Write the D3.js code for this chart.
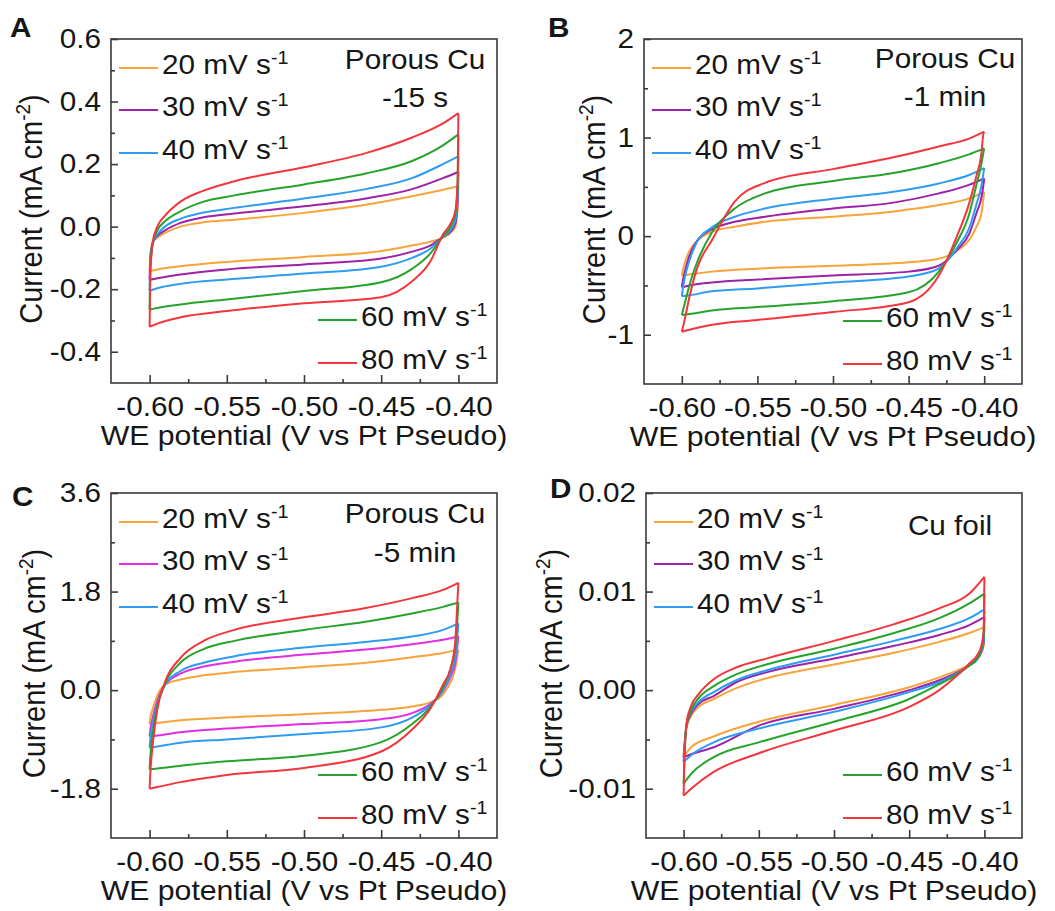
<!DOCTYPE html>
<html>
<head>
<meta charset="utf-8">
<script src="https://cdn.jsdelivr.net/npm/d3@7"></script>
<style>
  body { margin: 0; background: #fff; }
  text { font-family: "Liberation Sans", Arial, sans-serif; fill: #161616; }
</style>
</head>
<body>
<div id="chart"></div>
<script>
// ---- data ----
const rates = ['20', '30', '40', '60', '80'];

// forward scan potentials (V) and reverse scan potentials (V)
const upPot = [-0.6, -0.5995, -0.598, -0.595, -0.59, -0.58, -0.565, -0.545, -0.5, -0.46, -0.43, -0.41, -0.4];
const downPot = [-0.4, -0.4005, -0.402, -0.405, -0.41, -0.418, -0.43, -0.45, -0.5, -0.55, -0.58, -0.595, -0.6];

// Panel A, porous Cu -15 s (mA cm-2), rows = 20, 30, 40, 60, 80 mV/s
const upA = [
    [-0.143, -0.09, -0.05, -0.035, -0.02, 0.0, 0.014, 0.022, 0.044, 0.07, 0.097, 0.118, 0.129],
    [-0.17, -0.10, -0.052, -0.03, -0.012, 0.012, 0.03, 0.042, 0.065, 0.09, 0.12, 0.155, 0.175],
    [-0.205, -0.11, -0.054, -0.025, 0.0, 0.025, 0.045, 0.06, 0.09, 0.12, 0.155, 0.2, 0.225],
    [-0.265, -0.13, -0.055, -0.012, 0.017, 0.049, 0.08, 0.1, 0.135, 0.17, 0.21, 0.26, 0.295],
    [-0.32, -0.15, -0.05, 0.0, 0.035, 0.08, 0.115, 0.145, 0.19, 0.235, 0.285, 0.33, 0.363]
];
const downA = [
    [0.129, 0.06, 0.0, -0.02, -0.035, -0.048, -0.06, -0.078, -0.097, -0.113, -0.127, -0.137, -0.143],
    [0.175, 0.08, 0.01, -0.015, -0.033, -0.06, -0.08, -0.102, -0.121, -0.137, -0.153, -0.165, -0.17],
    [0.225, 0.1, 0.02, -0.01, -0.032, -0.07, -0.1, -0.128, -0.15, -0.169, -0.183, -0.197, -0.205],
    [0.295, 0.13, 0.04, 0.0, -0.03, -0.085, -0.135, -0.178, -0.206, -0.233, -0.249, -0.26, -0.265],
    [0.363, 0.15, 0.05, 0.01, -0.025, -0.11, -0.175, -0.226, -0.245, -0.27, -0.29, -0.31, -0.32]
];

// Panel B, porous Cu -1 min
const upB = [
    [-0.4, -0.36, -0.27, -0.15, -0.05, 0.044, 0.095, 0.146, 0.197, 0.25, 0.315, 0.383, 0.45],
    [-0.52, -0.47, -0.36, -0.2, -0.05, 0.07, 0.146, 0.197, 0.28, 0.34, 0.434, 0.52, 0.586],
    [-0.61, -0.55, -0.42, -0.25, -0.06, 0.09, 0.197, 0.28, 0.38, 0.45, 0.535, 0.62, 0.69],
    [-0.8, -0.77, -0.68, -0.5, -0.27, 0.04, 0.28, 0.434, 0.56, 0.64, 0.74, 0.83, 0.89],
    [-0.97, -0.94, -0.84, -0.62, -0.33, -0.04, 0.35, 0.54, 0.68, 0.8, 0.91, 0.99, 1.06]
];
const downB = [
    [0.45, 0.38, 0.22, 0.1, -0.04, -0.15, -0.23, -0.265, -0.3, -0.33, -0.36, -0.39, -0.4],
    [0.586, 0.52, 0.38, 0.24, 0.02, -0.14, -0.3, -0.36, -0.4, -0.44, -0.47, -0.5, -0.52],
    [0.69, 0.64, 0.5, 0.33, 0.08, -0.12, -0.33, -0.41, -0.47, -0.53, -0.56, -0.6, -0.61],
    [0.89, 0.85, 0.72, 0.53, 0.22, -0.06, -0.36, -0.57, -0.66, -0.72, -0.755, -0.79, -0.8],
    [1.06, 1.04, 0.82, 0.62, 0.33, 0.0, -0.4, -0.67, -0.77, -0.85, -0.9, -0.95, -0.97]
];

// Panel C, porous Cu -5 min
const upC = [
    [-0.62, -0.5, -0.35, -0.1, 0.1, 0.195, 0.27, 0.33, 0.42, 0.5, 0.6, 0.68, 0.74],
    [-0.85, -0.72, -0.5, -0.2, 0.1, 0.3, 0.43, 0.52, 0.65, 0.74, 0.84, 0.92, 0.98],
    [-1.05, -0.9, -0.6, -0.25, 0.1, 0.35, 0.5, 0.62, 0.78, 0.88, 0.98, 1.1, 1.22],
    [-1.45, -1.2, -0.8, -0.3, 0.12, 0.5, 0.75, 0.9, 1.1, 1.25, 1.4, 1.52, 1.6],
    [-1.8, -1.5, -1.0, -0.35, 0.15, 0.59, 0.9, 1.1, 1.33, 1.5, 1.68, 1.83, 1.96]
];
const downC = [
    [0.74, 0.65, 0.4, 0.15, -0.08, -0.22, -0.3, -0.36, -0.44, -0.5, -0.55, -0.6, -0.62],
    [0.98, 0.85, 0.5, 0.25, -0.02, -0.25, -0.42, -0.53, -0.62, -0.7, -0.77, -0.83, -0.85],
    [1.22, 1.05, 0.6, 0.3, 0.0, -0.27, -0.5, -0.68, -0.8, -0.9, -0.96, -1.03, -1.05],
    [1.6, 1.35, 0.8, 0.4, 0.05, -0.3, -0.62, -0.95, -1.2, -1.3, -1.38, -1.43, -1.45],
    [1.96, 1.7, 0.9, 0.4, 0.1, -0.33, -0.72, -1.12, -1.42, -1.55, -1.68, -1.77, -1.8]
];

// Panel D, Cu foil
const upD = [
    [-0.0068, -0.0058, -0.0038, -0.0026, -0.0017, -0.0009, 0.0002, 0.0012, 0.0026, 0.0038, 0.0049, 0.0058, 0.0064],
    [-0.0068, -0.0058, -0.0036, -0.0024, -0.0014, -0.0006, 0.0008, 0.0018, 0.0032, 0.0045, 0.0056, 0.0066, 0.0074],
    [-0.0073, -0.006, -0.0035, -0.0022, -0.0012, -0.0002, 0.0010, 0.0020, 0.0036, 0.0050, 0.0062, 0.0073, 0.0082],
    [-0.0095, -0.007, -0.0035, -0.002, -0.0008, 0.0004, 0.0016, 0.0026, 0.0042, 0.0058, 0.0073, 0.0088, 0.0098],
    [-0.0107, -0.0075, -0.0033, -0.0016, -0.0004, 0.0011, 0.0023, 0.0032, 0.0050, 0.0067, 0.0083, 0.0098, 0.0115]
];
const downD = [
    [0.0064, 0.0045, 0.0038, 0.0031, 0.0026, 0.0020, 0.0013, 0.0003, -0.0015, -0.0032, -0.0047, -0.0058, -0.0068],
    [0.0074, 0.0048, 0.0039, 0.0031, 0.0025, 0.0018, 0.0010, 0.0000, -0.0019, -0.0036, -0.0058, -0.0065, -0.0068],
    [0.0082, 0.0050, 0.0040, 0.0031, 0.0025, 0.0017, 0.0008, -0.0002, -0.0022, -0.0039, -0.0053, -0.0066, -0.0073],
    [0.0098, 0.0055, 0.0042, 0.0032, 0.0025, 0.0016, 0.0006, -0.0009, -0.0032, -0.0053, -0.0068, -0.0085, -0.0095],
    [0.0115, 0.0060, 0.0045, 0.0035, 0.0027, 0.0015, 0.0000, -0.0017, -0.0041, -0.0064, -0.0083, -0.0100, -0.0107]
];

// axis ticks
const xTicks = [-0.6, -0.55, -0.5, -0.45, -0.4];
const xMinor = [-0.575, -0.525, -0.475, -0.425];
const yTicksA = [-0.4, -0.2, 0, 0.2, 0.4, 0.6];
const yMinorA = [-0.3, -0.1, 0.1, 0.3, 0.5];
const yTicksB = [-1, 0, 1, 2];
const yMinorB = [-0.5, 0.5, 1.5];
const yTicksC = [-1.8, 0, 1.8, 3.6];
const yMinorC = [-0.9, 0.9, 2.7];
const yTicksD = [-0.01, 0, 0.01, 0.02];
const yMinorD = [-0.005, 0.005, 0.015];

const colors = ['#f7a43d', '#9b22a9', '#2e9cf2', '#25a32a', '#f2363d'];
const colorsC = ['#f7a43d', '#e12ee4', '#2e9cf2', '#25a32a', '#f2363d'];

// ---- drawing ----
const width = 1055;
const height = 911;
const SX = 1.1; // the figure's lettering is a little wider than plain Arial

const loc = d3.formatLocale({decimal: '.', thousands: ',', grouping: [3], currency: ['', ''], minus: '-'});

const svg = d3.select('#chart')
  .append('svg')
    .attr('width', width)
    .attr('height', height);

const panels = [
    {letter: 'A', lx: 10, ly: 37, left: 111, top: 39, right: 497, bottom: 383,
     yDomain: [-0.5, 0.6], yTicks: yTicksA, yMinor: yMinorA, fmt: '.1f',
     up: upA, down: downA, colors: colors, titleX: 42,
     note: ['Porous Cu', '-15 s'], noteX: 415, noteY: [69, 107]},
    {letter: 'B', lx: 548, ly: 37, left: 644, top: 39, right: 1022, bottom: 384,
     yDomain: [-1.5, 2], yTicks: yTicksB, yMinor: yMinorB, fmt: '.0f',
     up: upB, down: downB, colors: colors, titleX: 605,
     note: ['Porous Cu', '-1 min'], noteX: 945, noteY: [68, 106]},
    {letter: 'C', lx: 12, ly: 506, left: 111, top: 493, right: 497, bottom: 838,
     yDomain: [-2.7, 3.6], yTicks: yTicksC, yMinor: yMinorC, fmt: '.1f',
     up: upC, down: downC, colors: colorsC, titleX: 45,
     note: ['Porous Cu', '-5 min'], noteX: 415, noteY: [523, 562]},
    {letter: 'D', lx: 550, ly: 498, left: 646, top: 493, right: 1022, bottom: 838,
     yDomain: [-0.015, 0.02], yTicks: yTicksD, yMinor: yMinorD, fmt: '.2f',
     up: upD, down: downD, colors: colors, titleX: 562,
     note: ['Cu foil'], noteX: 950, noteY: [535]}
];

function stretched(parent, x, y, anchor, size) {
    return parent.append('text')
        .attr('transform', `translate(${x},${y}) scale(${SX},1)`)
        .attr('text-anchor', anchor)
        .style('font-size', size + 'px');
}

function drawPanel(p) {
    const g = svg.append('g').classed('panel', true);

    const xScale = d3.scaleLinear()
        .domain([-0.625, -0.375])
        .range([p.left, p.right]);
    const yScale = d3.scaleLinear()
        .domain(p.yDomain)
        .range([p.bottom, p.top]);

    // curves: forward scan then reverse scan, 80 mV/s drawn last
    const line = d3.line()
        .x(d => xScale(d[0]))
        .y(d => yScale(d[1]))
        .curve(d3.curveMonotoneX);

    const curves = g.append('g').classed('curves', true);
    rates.forEach((r, i) => {
        const fwd = upPot.map((v, k) => [v, p.up[i][k]]);
        const rev = downPot.map((v, k) => [v, p.down[i][k]]).reverse();
        [fwd, rev].forEach(branch => {
            curves.append('path')
                .datum(branch)
                .attr('d', line)
                .attr('fill', 'none')
                .attr('stroke', p.colors[i])
                .attr('stroke-width', 2)
                .attr('stroke-linejoin', 'round');
        });
    });

    // frame
    g.append('rect')
        .attr('x', p.left)
        .attr('y', p.top)
        .attr('width', p.right - p.left)
        .attr('height', p.bottom - p.top)
        .attr('fill', 'none')
        .attr('stroke', '#3a3a3a')
        .attr('stroke-width', 1.6);

    // axes, ticks pointing inwards
    const xAxis = d3.axisBottom(xScale)
        .tickValues(xTicks)
        .tickSizeInner(-8)
        .tickSizeOuter(0)
        .tickPadding(14)
        .tickFormat(loc.format('.2f'));
    const xMinorAxis = d3.axisBottom(xScale)
        .tickValues(xMinor)
        .tickSizeInner(-4)
        .tickSizeOuter(0)
        .tickFormat('');
    const yAxis = d3.axisLeft(yScale)
        .tickValues(p.yTicks)
        .tickSizeInner(-7)
        .tickSizeOuter(0)
        .tickPadding(10)
        .tickFormat(loc.format(p.fmt));
    const yMinorAxis = d3.axisLeft(yScale)
        .tickValues(p.yMinor)
        .tickSizeInner(-4)
        .tickSizeOuter(0)
        .tickFormat('');

    [[xAxis, `translate(0,${p.bottom})`], [xMinorAxis, `translate(0,${p.bottom})`],
     [yAxis, `translate(${p.left},0)`], [yMinorAxis, `translate(${p.left},0)`]]
        .forEach(([ax, tr]) => {
            const a = g.append('g')
                .attr('transform', tr)
                .call(ax);
            a.select('.domain').remove();
            a.selectAll('line')
                .attr('stroke', '#3a3a3a')
                .attr('stroke-width', 1.6);
            a.attr('font-family', null).attr('font-size', null);
            a.selectAll('text')
                .style('font-size', '27px')
                .attr('fill', '#161616');
        });

    g.selectAll('.tick text')
        .filter(function() { return this.getAttribute('x') !== null && +this.getAttribute('x') < 0; })
        .attr('x', -10 / SX)
        .attr('transform', `scale(${SX},1)`);
    g.selectAll('.tick text')
        .filter(function() { return !this.getAttribute('transform'); })
        .attr('transform', `scale(${SX},1)`);

    // axis titles
    stretched(g, (p.left + p.right) / 2, p.bottom + 62, 'middle', 27.5)
        .text('WE potential (V vs Pt Pseudo)');

    const yt = g.append('text')
        .attr('transform', `translate(${p.titleX},${(p.top + p.bottom) / 2 - 2}) rotate(-90) scale(1,${SX})`)
        .attr('text-anchor', 'middle')
        .style('font-size', '29px');
    yt.append('tspan').text('Current (mA cm');
    yt.append('tspan').attr('dy', -11).style('font-size', '19px').text('-2');
    yt.append('tspan').attr('dy', 11).text(')');

    // panel letter
    stretched(g, p.lx, p.ly, 'start', 27)
        .style('font-weight', 'bold')
        .text(p.letter);

    // annotation
    p.note.forEach((s, i) => {
        stretched(g, p.noteX, p.noteY[i], 'middle', 27).text(s);
    });

    // legend: three rows top-left, two rows bottom-right
    const rows = [
        {i: 0, x: p.left + 8, y: p.top + 29},
        {i: 1, x: p.left + 8, y: p.top + 71},
        {i: 2, x: p.left + 8, y: p.top + 114},
        {i: 3, x: p.right - 179, y: p.bottom - 63},
        {i: 4, x: p.right - 179, y: p.bottom - 20}
    ];
    rows.forEach(r => {
        g.append('line')
            .attr('x1', r.x)
            .attr('x2', r.x + 39)
            .attr('y1', r.y)
            .attr('y2', r.y)
            .attr('stroke', p.colors[r.i])
            .attr('stroke-width', 2);
        const t = stretched(g, r.x + 43, r.y + 6, 'start', 27);
        t.append('tspan').text(rates[r.i] + ' mV s');
        t.append('tspan').attr('dy', -10).style('font-size', '18px').text('-1');
    });
}

panels.forEach(drawPanel);
</script>
</body>
</html>
